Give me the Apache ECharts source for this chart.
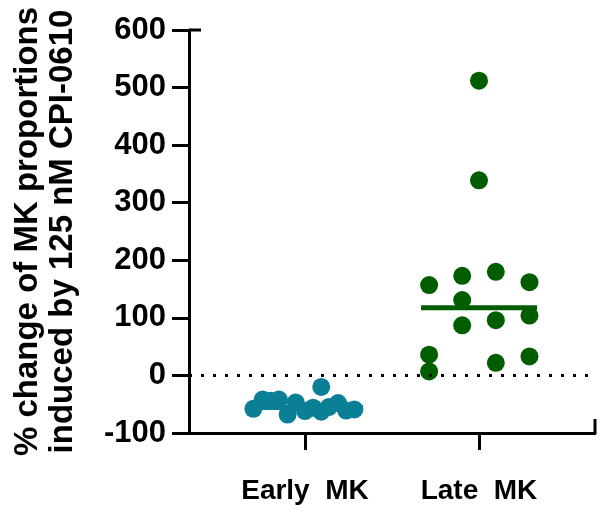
<!DOCTYPE html>
<html><head><meta charset="utf-8">
<script src="https://cdn.jsdelivr.net/npm/echarts@6/dist/echarts.min.js"></script>
<style>html,body{margin:0;padding:0;background:#fff}#c{width:603px;height:512px}</style>
</head><body><div id="c"></div>
<script>
const categories = ['Early  MK', 'Late  MK'];
const categoryX = [2, 5];
const earlyValues = [-58, -42, -44, -42, -68, -47, -62, -56, -20, -63, -55, -48, -61, -59];
const earlyOffsets = [-0.89, -0.73, -0.59, -0.45, -0.30, -0.16, 0, 0.14, 0.28, 0.28, 0.41, 0.57, 0.71, 0.85];
const lateValues = [512, 339, 157, 173, 180, 162, 131, 87, 96, 104, 36, 7, 22, 33];
const lateOffsets = [0, 0, -0.86, -0.29, 0.29, 0.87, -0.29, -0.29, 0.29, 0.87, -0.86, -0.86, 0.29, 0.87];
const yTicks = [-100, 0, 100, 200, 300, 400, 500, 600];
const colors = ['#0a7f95', '#005e00'];

function median(a){const s=[...a].sort((x,y)=>x-y);const n=s.length;return n%2?s[(n-1)/2]:(s[n/2-1]+s[n/2])/2;}

const groups = [[earlyValues, earlyOffsets], [lateValues, lateOffsets]];
const series = [];
groups.forEach((g, i) => {
  const [vals, offs] = g;
  series.push({
    type: 'scatter', symbolSize: 18, itemStyle: {color: colors[i], opacity: 1},
    data: vals.map((v, k) => [categoryX[i] + offs[k], v]), z: 3
  });
  const m = median(vals);
  series.push({
    type: 'line', symbol: 'none', lineStyle: {color: colors[i], width: 5}, z: 4,
    data: [[categoryX[i] - 1, m], [categoryX[i] + 1, m]]
  });
});
series.push({
  type: 'line', data: [], markLine: {
    silent: true, symbol: 'none', label: {show: false},
    lineStyle: {color: '#000', type: [3, 9], width: 3, cap: 'butt'},
    data: [{yAxis: 0}]
  }
});

const chart = echarts.init(document.getElementById('c'), null, {renderer: 'canvas'});
chart.setOption({
  animation: false,
  grid: {left: 189, right: 8, top: 30, bottom: 79, containLabel: false, outerBoundsMode: 'none'},
  xAxis: {
    type: 'value', min: 0, max: 7, splitLine: {show: false},
    axisLine: {show: true, onZero: false, lineStyle: {color: '#000', width: 3}},
    axisTick: {show: true, customValues: categoryX, length: 17, lineStyle: {color: '#000', width: 3}},
    axisLabel: {customValues: categoryX, formatter: v => categories[categoryX.indexOf(v)] || '',
      color: '#000', fontSize: 28, fontWeight: 'bold', fontFamily: 'Liberation Sans, Arial', margin: 44}
  },
  yAxis: {
    type: 'value', min: -100, max: 600, interval: 100, splitLine: {show: false},
    axisLine: {show: true, lineStyle: {color: '#000', width: 3}},
    axisTick: {show: true, length: 17, lineStyle: {color: '#000', width: 3}},
    axisLabel: {color: '#000', fontSize: 31, fontWeight: 'bold', fontFamily: 'Liberation Sans, Arial', margin: 23,
      customValues: yTicks},
    name: '% change of MK proportions\ninduced by 125 nM CPI-0610',
    nameLocation: 'middle', nameRotate: 90, nameGap: 109,
    nameTextStyle: {color: '#000', fontSize: 33, fontWeight: 'bold', fontFamily: 'Liberation Sans, Arial', lineHeight: 35}
  },
  series: series
});
// axis end caps
const topPt = chart.convertToPixel({gridIndex: 0}, [0, 600]);
const rightPt = chart.convertToPixel({gridIndex: 0}, [7, -100]);
chart.setOption({graphic: [
  {type: 'line', shape: {x1: topPt[0], y1: topPt[1], x2: topPt[0] + 12, y2: topPt[1]}, style: {stroke: '#000', lineWidth: 3}},
  {type: 'line', shape: {x1: rightPt[0], y1: rightPt[1], x2: rightPt[0], y2: rightPt[1] - 14}, style: {stroke: '#000', lineWidth: 3}}
]});
</script></body></html>
